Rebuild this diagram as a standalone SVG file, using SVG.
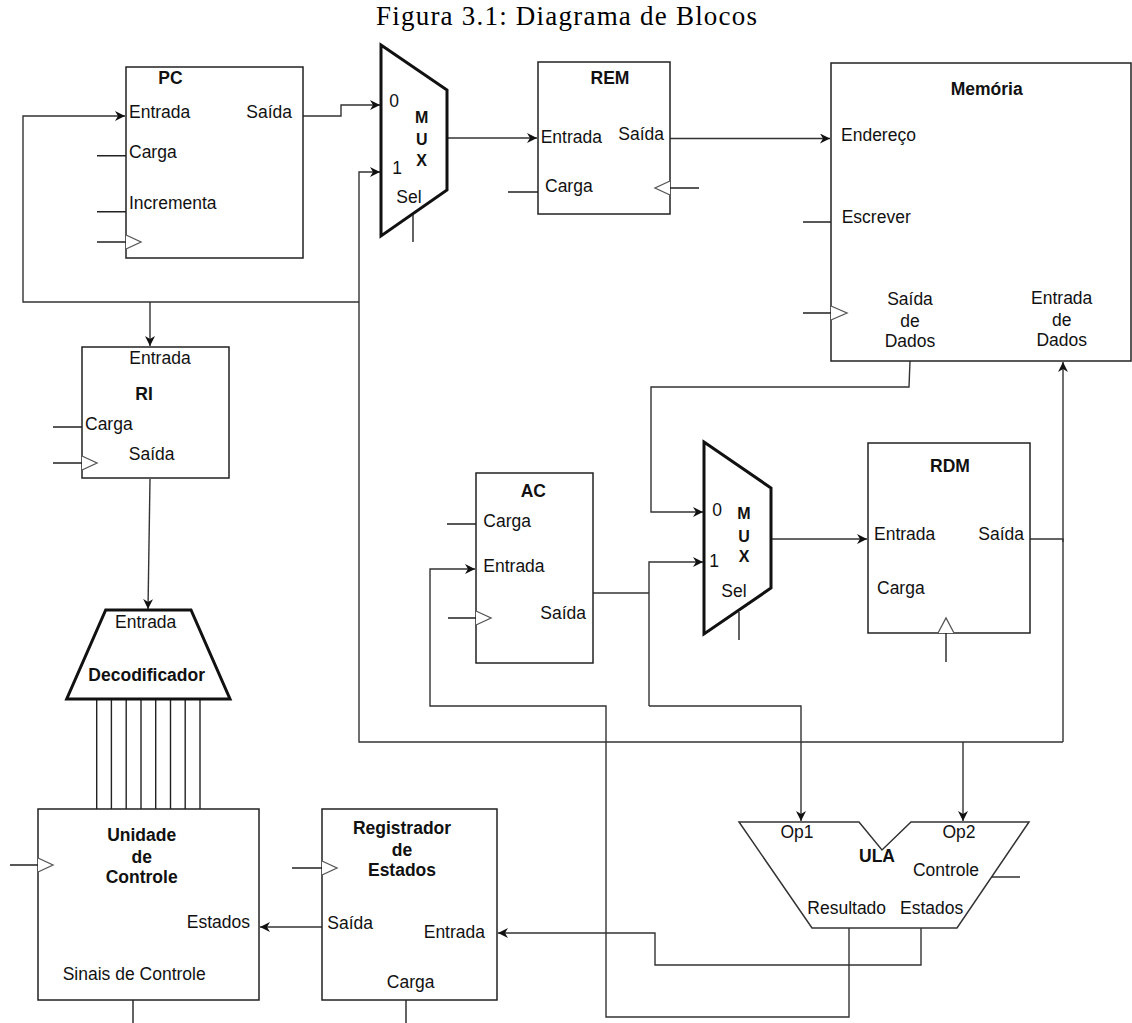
<svg xmlns="http://www.w3.org/2000/svg" width="1132" height="1023" viewBox="0 0 1132 1023">
<style>
.box{fill:#fff;stroke:#222;stroke-width:1.5}
.mux{fill:#fff;stroke:#111;stroke-width:3;stroke-linejoin:miter}
.ula{fill:#fff;stroke:#333;stroke-width:1.5}
.w{fill:none;stroke:#333;stroke-width:1.4}
.s{fill:none;stroke:#222;stroke-width:1.4}
.clk{fill:#fff;stroke:#555;stroke-width:1.3}
text{font-family:"Liberation Sans",Arial,sans-serif;font-size:17.5px;fill:#111}
.b{font-weight:bold}
.m{text-anchor:middle}
.e{text-anchor:end}
.title{font-family:"Liberation Serif","Times New Roman",serif;font-size:27px;fill:#000}
</style>
<defs>
<marker id="ar" markerUnits="userSpaceOnUse" markerWidth="12" markerHeight="10" refX="10" refY="5" orient="auto">
<path d="M0,0 L10,5 L0,10 L3,5 Z" fill="#111"/>
</marker>
</defs>
<rect width="1132" height="1023" fill="#fff"/>
<text class="title" x="376" y="25" textLength="381" lengthAdjust="spacing">Figura 3.1: Diagrama de Blocos</text>

<g id="connectors">
<path class="w" d="M359,302 H23 V116 H125" marker-end="url(#ar)"/>
<path class="w" d="M150,302 V346" marker-end="url(#ar)"/>
<path class="w" d="M1063,742 H359 V172 H380" marker-end="url(#ar)"/>
<path class="w" d="M1030,539 H1063 V742"/>
<path class="w" d="M1063,542 V362" marker-end="url(#ar)"/>
<path class="w" d="M963,742 V821" marker-end="url(#ar)"/>
<path class="w" d="M303,116 H341 V105 H380" marker-end="url(#ar)"/>
<path class="w" d="M446,138 H537" marker-end="url(#ar)"/>
<path class="w" d="M670,138.5 H830" marker-end="url(#ar)"/>
<path class="w" d="M910,361 L909,387 H651 V512 H703" marker-end="url(#ar)"/>
<path class="w" d="M772,539 H867" marker-end="url(#ar)"/>
<path class="w" d="M593,593 H649"/>
<path class="w" d="M649,706 V562 H703" marker-end="url(#ar)"/>
<path class="w" d="M649,706 H801 V821" marker-end="url(#ar)"/>
<path class="w" d="M849,928 V1017 H606 V706 H430 V569 H475" marker-end="url(#ar)"/>
<path class="w" d="M921,928 V965 H655 V933 H498" marker-end="url(#ar)"/>
<path class="w" d="M322,927 H260" marker-end="url(#ar)"/>
<path class="w" d="M150,479 L148,609" marker-end="url(#ar)"/>
<path class="s" d="M96.7,699 V809 M111.4,699 V809 M126.2,699 V809 M141,699 V809 M155.7,699 V809 M170.5,699 V809 M185.2,699 V809 M200,699 V809"/>
</g>

<g id="pc">
<rect class="box" x="126" y="67" width="177" height="191"/>
<text class="b m" x="170.5" y="84">PC</text>
<text x="129" y="118">Entrada</text>
<text class="e" x="292" y="118">Saída</text>
<text x="129" y="158">Carga</text>
<text x="129" y="209">Incrementa</text>
<path class="s" d="M97,155.7 H126 M97,211.7 H126 M97,242 H126"/>
<polyline class="clk" points="126,235 141,242 126,249"/>
</g>

<g id="mux1">
<polygon class="mux" points="381,45 447,90 447,190 381,236"/>
<text class="m" x="394" y="107">0</text>
<text class="m" x="397" y="174">1</text>
<text class="b m" x="421.7" y="123" style="font-size:16px">M</text>
<text class="b m" x="421.7" y="145" style="font-size:16px">U</text>
<text class="b m" x="421.7" y="166" style="font-size:16px">X</text>
<text class="m" x="409" y="202.5">Sel</text>
<path class="s" d="M413,215 V242"/>
</g>

<g id="rem">
<rect class="box" x="538" y="62" width="132" height="152"/>
<text class="b m" x="610" y="84">REM</text>
<text x="540.7" y="143">Entrada</text>
<text class="e" x="664" y="140">Saída</text>
<text x="545" y="192">Carga</text>
<path class="s" d="M508,192 H538 M670,188 H699"/>
<polyline class="clk" points="670,181 655,188 670,195"/>
</g>

<g id="memoria">
<rect class="box" x="831" y="63" width="300" height="298"/>
<text class="b m" x="986.7" y="95">Memória</text>
<text x="841" y="140.7">Endereço</text>
<text x="841.7" y="222.7">Escrever</text>
<text class="m" x="910" y="305">Saída</text>
<text class="m" x="910" y="326.7">de</text>
<text class="m" x="910" y="346.7">Dados</text>
<text class="m" x="1061.7" y="304">Entrada</text>
<text class="m" x="1061.7" y="326">de</text>
<text class="m" x="1061.7" y="346">Dados</text>
<path class="s" d="M803,222 H831 M803,313 H831"/>
<polyline class="clk" points="831,306 847,313 831,320"/>
</g>

<g id="ri">
<rect class="box" x="82" y="347" width="147" height="131"/>
<text class="m" x="160" y="364">Entrada</text>
<text class="b m" x="144" y="400">RI</text>
<text x="85" y="429.5">Carga</text>
<text class="m" x="151.7" y="460">Saída</text>
<path class="s" d="M53,427 H82 M53,463 H82"/>
<polyline class="clk" points="82,456 97,463 82,470"/>
</g>

<g id="ac">
<rect class="box" x="476" y="473" width="117" height="190"/>
<text class="b m" x="533.3" y="497.3">AC</text>
<text x="483.3" y="526.5">Carga</text>
<text x="483.3" y="572.3">Entrada</text>
<text class="e" x="586" y="619">Saída</text>
<path class="s" d="M447,524 H476 M448,618 H476"/>
<polyline class="clk" points="476,611 491,618 476,625"/>
</g>

<g id="mux2">
<polygon class="mux" points="704,442 771,488 771,588 704,634"/>
<text class="m" x="717" y="516">0</text>
<text class="m" x="714" y="567">1</text>
<text class="b m" x="744" y="519" style="font-size:16px">M</text>
<text class="b m" x="744" y="541.5" style="font-size:16px">U</text>
<text class="b m" x="744" y="561.5" style="font-size:16px">X</text>
<text class="m" x="734" y="597">Sel</text>
<path class="s" d="M739,612 V640"/>
</g>

<g id="rdm">
<rect class="box" x="868" y="443" width="162" height="190"/>
<text class="b m" x="950" y="472">RDM</text>
<text x="874" y="540">Entrada</text>
<text class="e" x="1024" y="540">Saída</text>
<text x="877" y="593.5">Carga</text>
<path class="s" d="M946,633 V662"/>
<polyline class="clk" points="938,633 946,618 954,633"/>
</g>

<g id="decodificador">
<polygon class="mux" points="105.7,610 191,610 230,699 66.7,699"/>
<text class="m" x="145.7" y="627.7">Entrada</text>
<text class="b m" x="146.7" y="681">Decodificador</text>
</g>

<g id="unidade-controle">
<rect class="box" x="38" y="809" width="221" height="191"/>
<text class="b m" x="141.7" y="840.7">Unidade</text>
<text class="b m" x="141.7" y="862.7">de</text>
<text class="b m" x="141.7" y="882.7">Controle</text>
<text class="e" x="250" y="928.3">Estados</text>
<text x="62.7" y="980">Sinais de Controle</text>
<path class="s" d="M10,865 H38 M133,1000 V1023"/>
<polyline class="clk" points="38,858 53,865 38,872"/>
</g>

<g id="registrador-estados">
<rect class="box" x="322" y="809" width="175" height="191"/>
<text class="b m" x="402" y="833.5">Registrador</text>
<text class="b m" x="402" y="855.7">de</text>
<text class="b m" x="402" y="876">Estados</text>
<text x="327.3" y="929">Saída</text>
<text class="e" x="485" y="938.3">Entrada</text>
<text class="m" x="410.7" y="987.5">Carga</text>
<path class="s" d="M292,868 H322 M406,1000 V1023"/>
<polyline class="clk" points="322,861 337,868 322,875"/>
</g>

<g id="ula">
<polygon class="ula" points="739,822 859,822 882,850 911,822 1029,822 957,928 812,928"/>
<text class="m" x="797" y="838">Op1</text>
<text class="m" x="959" y="838">Op2</text>
<text class="b m" x="877" y="862">ULA</text>
<text class="m" x="946" y="876">Controle</text>
<text class="m" x="846.7" y="914">Resultado</text>
<text class="m" x="931.7" y="914">Estados</text>
<path class="s" d="M992,877 H1020"/>
</g>
</svg>
